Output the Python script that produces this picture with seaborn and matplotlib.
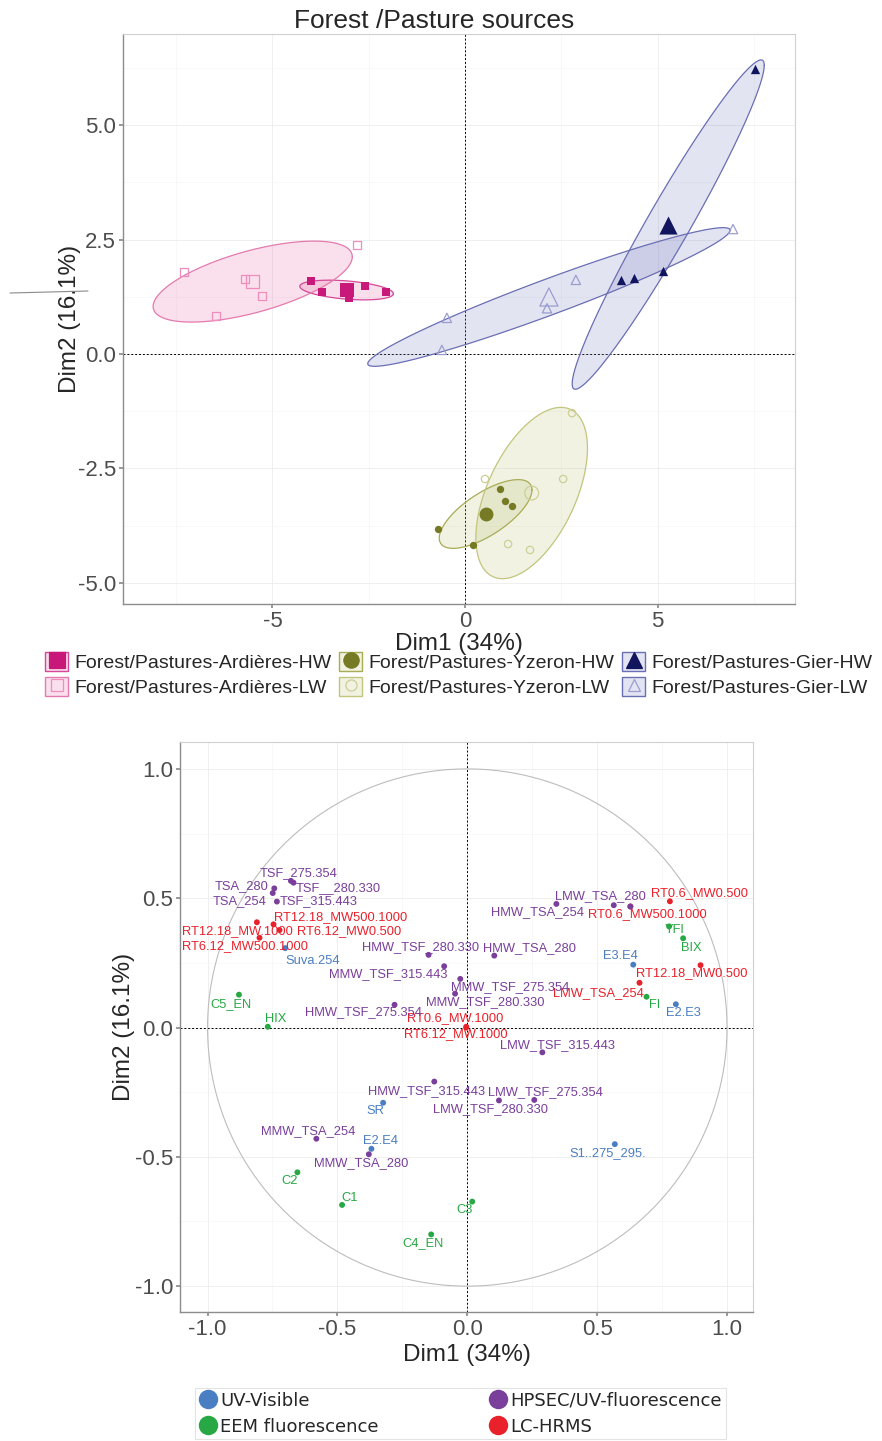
import numpy as np
import pandas as pd
import matplotlib
matplotlib.use("Agg")
import matplotlib.pyplot as plt
import seaborn as sns
from matplotlib.lines import Line2D
from matplotlib.patches import Rectangle
from matplotlib.ticker import AutoMinorLocator, FixedLocator

# ---- individuals map (PCA scores) ----
ard_hw_x = [-4.00, -3.71, -3.01, -2.60, -2.05]
ard_hw_y = [1.59, 1.35, 1.22, 1.48, 1.35]
ard_lw_x = [-7.30, -2.81, -5.71, -5.27, -6.47]
ard_lw_y = [1.79, 2.38, 1.64, 1.27, 0.83]
yz_hw_x = [0.91, 1.04, 1.22, -0.70, 0.21]
yz_hw_y = [-2.95, -3.21, -3.32, -3.82, -4.17]
yz_lw_x = [2.78, 0.52, 2.55, 1.12, 1.69]
yz_lw_y = [-1.29, -2.73, -2.73, -4.15, -4.28]
gier_hw_x = [7.53, 4.05, 4.39, 5.14]
gier_hw_y = [6.22, 1.62, 1.66, 1.81]
gier_lw_x = [-0.47, -0.60, 2.88, 2.13, 6.96]
gier_lw_y = [0.79, 0.09, 1.62, 1.00, 2.73]

group_names = [
    "Forest/Pastures-Ardières-HW", "Forest/Pastures-Ardières-LW",
    "Forest/Pastures-Yzeron-HW", "Forest/Pastures-Yzeron-LW",
    "Forest/Pastures-Gier-HW", "Forest/Pastures-Gier-LW",
]

# ---- variables map (correlation circle) ----
var_names = [
    "RT12.18_MW500.1000", "RT12.18_MW.1000", "RT6.12_MW0.500", "RT6.12_MW500.1000",
    "RT0.6_MW.1000", "RT6.12_MW.1000", "RT0.6_MW0.500", "RT0.6_MW500.1000",
    "RT12.18_MW0.500", "LMW_TSA_254",
    "Suva.254", "SR", "E2.E4", "S1..275_295.", "E3.E4", "E2.E3",
    "C5_EN", "HIX", "C2", "C1", "C3", "C4_EN", "YFI", "BIX", "FI",
    "TSF_275.354", "TSF__280.330", "TSA_280", "TSA_254", "TSF_315.443",
    "HMW_TSF_280.330", "MMW_TSF_315.443", "MMW_TSF_275.354", "MMW_TSF_280.330",
    "HMW_TSF_275.354", "HMW_TSA_280", "LMW_TSA_280", "HMW_TSA_254", "",
    "LMW_TSF_315.443", "HMW_TSF_315.443", "LMW_TSF_275.354", "LMW_TSF_280.330",
    "MMW_TSA_254", "MMW_TSA_280",
]
var_group = (["LC-HRMS"] * 10 + ["UV-Visible"] * 6 + ["EEM fluorescence"] * 9
             + ["HPSEC/UV-fluorescence"] * 20)
var_x = [
    -0.746, -0.810, -0.723, -0.800, -0.004, -0.004, 0.780, 0.628, 0.898, 0.663,
    -0.701, -0.324, -0.369, 0.568, 0.639, 0.803,
    -0.879, -0.768, -0.654, -0.482, 0.019, -0.139, 0.777, 0.831, 0.690,
    -0.679, -0.669, -0.743, -0.749, -0.733, -0.149, -0.089, -0.027, -0.047,
    -0.280, 0.104, 0.343, 0.564, 0.628, 0.289, -0.127, 0.258, 0.122,
    -0.581, -0.379,
]
var_y = [
    0.399, 0.407, 0.377, 0.347, 0.003, 0.000, 0.488, 0.468, 0.241, 0.173,
    0.307, -0.291, -0.469, -0.451, 0.243, 0.090,
    0.127, 0.003, -0.560, -0.686, -0.673, -0.800, 0.391, 0.345, 0.119,
    0.567, 0.560, 0.538, 0.520, 0.487, 0.281, 0.237, 0.188, 0.131,
    0.088, 0.278, 0.478, 0.473, 0.468, -0.096, -0.209, -0.280, -0.282,
    -0.430, -0.490,
]
# where the (repelled) text labels sit
lab_x = [
    -0.487, -0.884, -0.454, -0.855, -0.046, -0.046, 0.895, 0.692, 0.866, 0.506,
    -0.596, -0.355, -0.335, 0.541, 0.590, 0.834,
    -0.911, -0.736, -0.685, -0.454, -0.012, -0.171, 0.798, 0.862, 0.722,
    -0.650, -0.496, -0.868, -0.875, -0.573, -0.181, -0.303, 0.166, 0.069,
    -0.400, 0.239, 0.513, 0.269, 0.628, 0.347, -0.158, 0.301, 0.091,
    -0.612, -0.410,
]
lab_y = [
    0.428, 0.374, 0.374, 0.315, 0.037, -0.027, 0.519, 0.438, 0.210, 0.133,
    0.259, -0.324, -0.440, -0.485, 0.276, 0.058,
    0.092, 0.031, -0.593, -0.658, -0.707, -0.833, 0.377, 0.307, 0.086,
    0.599, 0.541, 0.547, 0.487, 0.487, 0.310, 0.205, 0.158, 0.100,
    0.058, 0.308, 0.509, 0.445, 0.468, -0.069, -0.245, -0.250, -0.314,
    -0.399, -0.526,
]
var_groups = ["UV-Visible", "EEM fluorescence", "HPSEC/UV-fluorescence", "LC-HRMS"]
var_colors = {"UV-Visible": "#4A7EC2", "EEM fluorescence": "#27A844",
              "HPSEC/UV-fluorescence": "#7A3F9B", "LC-HRMS": "#E8212B"}


def ellipse_xy(x, y, level=0.6, n_pts=200):
    # normal-theory ellipse, like stat_ellipse(type = "norm")
    pts = np.column_stack([x, y])
    d = len(pts) - 1
    fq = d / 2 * ((1 - level) ** (-2 / d) - 1)
    r = np.sqrt(2 * fq)
    chol = np.linalg.cholesky(np.cov(pts, rowvar=False))
    t = np.linspace(0, 2 * np.pi, n_pts)
    ell = pts.mean(0)[:, None] + r * chol @ np.vstack([np.cos(t), np.sin(t)])
    return ell[0], ell[1]


sns.set_theme(style="white")
plt.rcParams["font.family"] = ["Liberation Sans", "DejaVu Sans"]
plt.rcParams["axes.unicode_minus"] = False

fig = plt.figure(figsize=(8.82, 14.41), dpi=100)
ax1 = fig.add_axes([123 / 882, 1 - 604 / 1441, 672 / 882, 570 / 1441])
ax2 = fig.add_axes([180 / 882, 1 - 1312 / 1441, 573 / 882, 570 / 1441])


def style_axes(ax):
    ax.grid(True, which="major", color="#EDEDED", lw=0.6)
    ax.grid(True, which="minor", color="#F5F5F5", lw=0.5)
    ax.set_axisbelow(True)
    for side in ["top", "right"]:
        ax.spines[side].set_color("#D0D0D0")
        ax.spines[side].set_linewidth(0.8)
    for side in ["left", "bottom"]:
        ax.spines[side].set_color("#8C8C8C")
        ax.spines[side].set_linewidth(1.0)
    ax.tick_params(which="major", labelsize=16, labelcolor="#4D4D4D", length=3,
                   color="#8C8C8C", left=True, bottom=True, pad=2)
    ax.tick_params(which="minor", length=0)
    ax.axhline(0, color="black", lw=0.7, ls=(0, (2, 2)), zorder=1)
    ax.axvline(0, color="black", lw=0.7, ls=(0, (2, 2)), zorder=1)


# ---- top panel ----
style_axes(ax1)
top_sets = [
    (ard_hw_x, ard_hw_y, "s", True, "#C8197B", "#D6479A", "#E0609F", 33, 90),
    (ard_lw_x, ard_lw_y, "s", False, "#EE8DBE", "#E47AAE", "#E164A0", 33, 90),
    (yz_hw_x, yz_hw_y, "o", True, "#767A24", "#A9AC55", "#B9BE6E", 28, 100),
    (yz_lw_x, yz_lw_y, "o", False, "#CDCF95", "#C3C57C", "#B9BE6E", 28, 100),
    (gier_hw_x, gier_hw_y, "^", True, "#11155E", "#6A6EB3", "#7378BE", 45, 170),
    (gier_lw_x, gier_lw_y, "^", False, "#9A9DCF", "#6A6EB3", "#7378BE", 45, 170),
]
for xs, ys, mk, filled, mcol, ecol, fcol, s_pt, s_mean in top_sets:
    ex, ey = ellipse_xy(xs, ys)
    ax1.fill(ex, ey, facecolor=fcol, alpha=0.2, edgecolor="none", zorder=2)
    ax1.plot(ex, ey, color=ecol, lw=0.9, zorder=3)
    cx, cy = [np.mean(xs)], [np.mean(ys)]
    if filled:
        sns.scatterplot(x=xs, y=ys, marker=mk, s=s_pt, color=mcol,
                        edgecolor=mcol, linewidth=0, ax=ax1, zorder=4)
        sns.scatterplot(x=cx, y=cy, marker=mk, s=s_mean, color=mcol,
                        edgecolor=mcol, linewidth=0, ax=ax1, zorder=4)
    else:
        sns.scatterplot(x=xs, y=ys, marker=mk, s=s_pt, color=mcol,
                        facecolors="none", edgecolor=mcol, linewidth=0.9,
                        ax=ax1, zorder=4)
        sns.scatterplot(x=cx, y=cy, marker=mk, s=s_mean, color=mcol,
                        facecolors="none", edgecolor=mcol, linewidth=0.9,
                        ax=ax1, zorder=4)

ax1.set_xlim(-8.88, 8.57)
ax1.set_ylim(-5.46, 6.99)
ax1.xaxis.set_major_locator(FixedLocator([-5, 0, 5]))
ax1.set_xticklabels(["-5", "0", "5"])
ax1.yaxis.set_major_locator(FixedLocator([-5, -2.5, 0, 2.5, 5]))
ax1.set_yticklabels(["-5.0", "-2.5", "0.0", "2.5", "5.0"])
ax1.xaxis.set_minor_locator(AutoMinorLocator(2))
ax1.yaxis.set_minor_locator(AutoMinorLocator(2))
ax1.set_xlabel("Dim1 (34%)", fontsize=17.5, labelpad=1)
ax1.set_ylabel("Dim2 (16.1%)", fontsize=17.5, labelpad=-2)

fig.text(434 / 882, 1 - 21 / 1441, "Forest /Pasture sources", ha="center",
         va="center", fontsize=19)

handles = []
for xs, ys, mk, filled, mcol, ecol, fcol, s_pt, s_mean in top_sets:
    box = Rectangle((0, 0), 1, 1, facecolor=matplotlib.colors.to_rgba(fcol, 0.2),
                    edgecolor=ecol, lw=1.0)
    mark = Line2D([], [], ls="none", marker=mk, ms=11 if filled else 8,
                  color=mcol, mfc=mcol if filled else "none", mew=0.9)
    handles.append((box, mark))
fig.legend(handles, group_names, ncol=3, loc="upper left",
           bbox_to_anchor=(45 / 882, 1 - 652 / 1441), frameon=False,
           fontsize=14, handlelength=1.2, handleheight=1.15, handletextpad=0.3,
           columnspacing=0.4, labelspacing=0.25, borderpad=0,
           borderaxespad=0)

# ---- bottom panel ----
style_axes(ax2)
t = np.linspace(0, 2 * np.pi, 400)
ax2.plot(np.cos(t), np.sin(t), color="#BDBDBD", lw=0.8, zorder=2)
var_df = pd.DataFrame({"x": var_x, "y": var_y, "group": var_group})
sns.scatterplot(data=var_df, x="x", y="y", hue="group", palette=var_colors,
                s=18, linewidth=0, legend=False, ax=ax2, zorder=4)
for name, grp, lx, ly in zip(var_names, var_group, lab_x, lab_y):
    if name:
        ax2.text(lx, ly, name, color=var_colors[grp], fontsize=9.3,
                 ha="center", va="center", zorder=5)
ax2.set_xlim(-1.106, 1.10)
ax2.set_ylim(-1.10, 1.104)
ticks = [-1.0, -0.5, 0.0, 0.5, 1.0]
ax2.xaxis.set_major_locator(FixedLocator(ticks))
ax2.yaxis.set_major_locator(FixedLocator(ticks))
ax2.set_xticklabels([f"{v:.1f}" for v in ticks])
ax2.set_yticklabels([f"{v:.1f}" for v in ticks])
ax2.xaxis.set_minor_locator(AutoMinorLocator(2))
ax2.yaxis.set_minor_locator(AutoMinorLocator(2))
ax2.set_xlabel("Dim1 (34%)", fontsize=17.5, labelpad=3)
ax2.set_ylabel("Dim2 (16.1%)", fontsize=17.5, labelpad=0)

var_handles = [Line2D([], [], ls="none", marker="o", ms=14, color=var_colors[g],
                      mew=0) for g in var_groups]
leg = fig.legend(var_handles, var_groups, ncol=2, loc="upper left",
                 bbox_to_anchor=(195 / 882, 1 - 1388 / 1441), frameon=True,
                 fancybox=False, edgecolor="#DDDDDD",
                 prop={"family": "DejaVu Sans", "size": 13},
                 handlelength=1.0, handletextpad=0.2, columnspacing=6.1,
                 labelspacing=0.45, borderpad=0.2, borderaxespad=0)
leg.get_frame().set_linewidth(0.8)

# stray stroke left of the first y label in the source image
fig.add_artist(Line2D([10 / 882, 88 / 882], [1 - 293 / 1441, 1 - 291 / 1441],
                      transform=fig.transFigure, color="#8A8A8A", lw=0.8))

fig.savefig("out.png", dpi=100, facecolor="white")
